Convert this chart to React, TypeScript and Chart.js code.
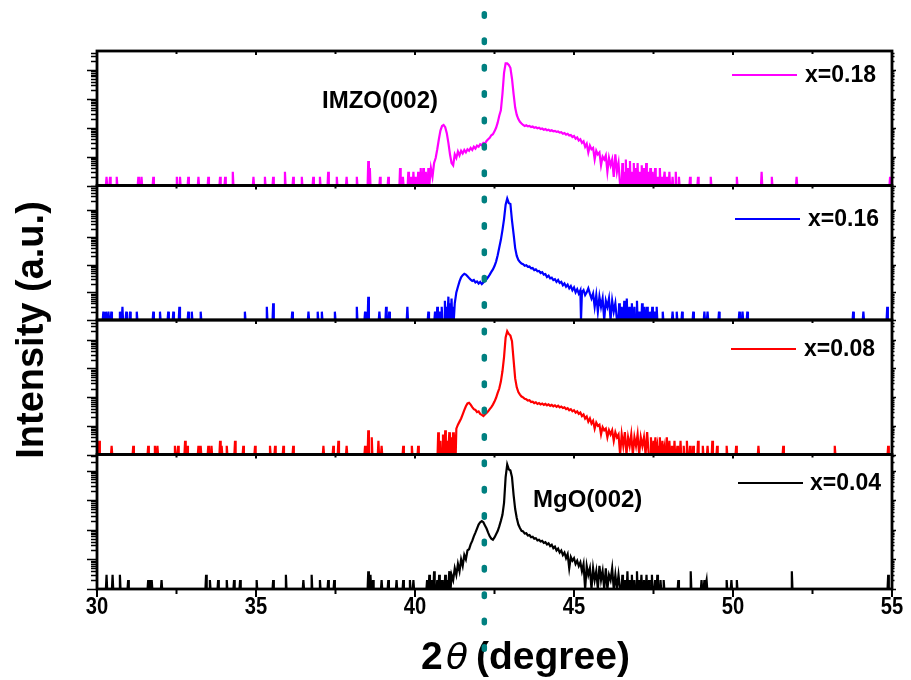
import React, { useEffect, useRef } from "react";
import { Chart, registerables } from "chart.js";

Chart.register(...registerables);

// ---------- axis / labels ----------
const X_MIN = 30;
const X_MAX = 55;
const X_MAJOR_STEP = 5;
const X_MINOR_STEP = 2.5;
const seriesLabels = ["x=0.04", "x=0.08", "x=0.16", "x=0.18"];
const seriesColors = ["#000000", "#FF0000", "#0000FF", "#FF00FF"];
const panelMax = [34700, 49000, 74000, 45700]; // bottom -> top panels
const dottedLineX = 42.18;
const xTitleParts = ["2", "\u03B8", "(degree)"];
const yTitle = "Intensity (a.u.)";
const annotationTexts = ["IMZO(002)", "MgO(002)"];

// ---------- x = 0.18 (magenta) ----------
const spikesBefore018: [number, number][] = [
  [30.3, 2], [30.41, 2], [30.62, 2], [31.3, 2], [31.4, 2], [31.77, 2], [32.51, 2], [32.61, 2],
  [32.87, 2], [33.19, 2], [33.5, 2], [33.87, 2], [34.03, 2], [34.27, 3], [34.92, 2], [35.28, 2],
  [35.54, 2], [35.91, 3], [36.17, 2], [36.44, 2], [36.8, 2], [37.01, 2], [37.27, 3], [37.54, 2],
  [37.85, 2], [38.17, 2], [38.53, 7], [38.58, 4], [38.9, 2], [39.16, 2], [39.53, 4], [39.62, 2],
  [39.79, 3], [39.88, 2], [39.95, 3], [40.02, 2], [40.1, 3], [40.18, 4], [40.26, 4], [40.34, 3], [40.42, 4],
];
const peak018: [number, number][] = [
  [40.45, 1], [40.5, 4], [40.55, 2], [40.6, 6], [40.65, 9], [40.7, 18], [40.75, 40], [40.8, 80],
  [40.85, 115], [40.9, 125], [40.95, 105], [41.0, 65], [41.05, 30], [41.1, 12], [41.15, 6], [41.2, 5],
  [41.25, 12], [41.3, 9], [41.35, 15], [41.4, 11], [41.45, 16], [41.5, 13], [41.55, 17], [41.6, 14],
  [41.65, 18], [41.7, 16], [41.75, 20], [41.8, 17], [41.85, 22], [41.9, 19], [41.95, 24], [42.0, 22],
  [42.05, 27], [42.1, 25], [42.15, 30], [42.2, 28], [42.25, 35], [42.3, 40], [42.35, 45], [42.4, 55],
  [42.45, 60], [42.5, 75], [42.55, 100], [42.6, 150], [42.65, 260], [42.7, 400], [42.75, 1500],
  [42.8, 8000], [42.85, 17000], [42.9, 17000], [42.95, 15000], [43.0, 12000], [43.05, 5000],
  [43.1, 1500], [43.15, 500], [43.2, 280], [43.25, 200], [43.3, 160], [43.35, 140], [43.4, 125],
  [43.45, 115], [43.5, 122], [43.55, 112], [43.6, 116], [43.65, 106], [43.7, 110], [43.75, 100],
  [43.8, 104], [43.85, 96], [43.9, 100], [43.95, 90], [44.0, 94], [44.05, 86], [44.1, 90], [44.15, 82],
  [44.2, 86], [44.25, 78], [44.3, 82], [44.35, 76], [44.4, 78], [44.45, 72], [44.5, 74], [44.55, 68],
  [44.6, 70], [44.65, 62], [44.7, 66], [44.75, 58], [44.8, 62], [44.85, 54], [44.9, 56], [44.95, 48],
  [45.0, 52], [45.05, 42], [45.1, 46], [45.15, 36], [45.2, 40], [45.25, 30], [45.3, 34], [45.35, 22],
  [45.4, 28], [45.45, 14], [45.5, 24], [45.55, 18], [45.6, 20], [45.65, 8], [45.7, 16], [45.75, 12],
  [45.8, 14], [45.85, 5], [45.9, 10], [45.95, 8], [46.0, 11], [46.05, 3], [46.1, 9], [46.15, 5],
  [46.2, 8], [46.25, 2], [46.3, 12], [46.35, 3], [46.4, 6], [46.45, 1],
];
const spikesAfter018: [number, number][] = [
  [46.52, 6], [46.58, 3], [46.63, 8], [46.7, 4], [46.76, 7], [46.82, 3], [46.88, 6], [46.95, 4],
  [47.0, 6], [47.07, 3], [47.13, 5], [47.2, 4], [47.27, 6], [47.33, 3], [47.4, 4], [47.47, 3],
  [47.55, 4], [47.62, 2], [47.7, 4], [47.78, 2], [47.85, 3], [47.93, 2], [48.0, 3], [48.1, 2],
  [48.2, 3], [48.3, 2], [48.65, 2], [48.9, 2], [49.3, 2], [50.12, 2], [50.9, 3], [51.22, 2],
  [52.0, 2], [54.94, 2],
];

// ---------- x = 0.16 (blue) ----------
const spikesBefore016: [number, number][] = [
  [30.2, 2], [30.28, 2], [30.36, 2], [30.45, 2], [30.72, 2], [30.8, 3], [30.92, 2], [31.04, 2],
  [31.25, 2], [31.77, 2], [31.98, 2], [32.24, 2], [32.4, 2], [32.59, 3], [32.87, 2], [32.98, 2],
  [33.26, 2], [34.65, 2], [35.34, 3], [35.54, 4], [36.14, 2], [36.65, 2], [36.94, 2], [37.07, 2],
  [37.48, 2], [38.17, 3], [38.43, 2], [38.53, 7], [38.88, 2], [39.09, 3], [39.19, 2], [39.76, 3],
  [40.42, 2], [40.63, 2], [40.7, 3], [40.77, 2], [40.84, 3], [40.94, 5], [41.0, 3], [41.05, 7],
  [41.1, 4], [41.15, 6], [41.2, 3],
];
const peak016: [number, number][] = [
  [41.25, 4], [41.3, 10], [41.35, 16], [41.4, 25], [41.45, 35], [41.5, 42], [41.55, 47], [41.6, 44],
  [41.65, 38], [41.7, 33], [41.75, 29], [41.8, 26], [41.85, 28], [41.9, 23], [41.95, 25], [42.0, 21],
  [42.05, 24], [42.1, 20], [42.15, 23], [42.2, 26], [42.25, 30], [42.3, 36], [42.35, 44], [42.4, 55],
  [42.45, 68], [42.5, 90], [42.55, 130], [42.6, 220], [42.65, 420], [42.7, 800], [42.75, 1800],
  [42.8, 4500], [42.85, 15000], [42.9, 25000], [42.95, 17000], [43.0, 16000], [43.05, 4000],
  [43.1, 1300], [43.15, 400], [43.2, 210], [43.25, 150], [43.3, 125], [43.35, 110], [43.4, 104],
  [43.45, 92], [43.5, 96], [43.55, 84], [43.6, 86], [43.65, 74], [43.7, 76], [43.75, 64], [43.8, 68],
  [43.85, 58], [43.9, 60], [43.95, 50], [44.0, 54], [44.05, 44], [44.1, 46], [44.15, 36], [44.2, 40],
  [44.25, 32], [44.3, 34], [44.35, 28], [44.4, 30], [44.45, 24], [44.5, 28], [44.55, 22], [44.6, 24],
  [44.65, 18], [44.7, 21], [44.75, 16], [44.8, 19], [44.85, 14], [44.9, 17], [44.95, 12], [45.0, 15],
  [45.05, 10], [45.1, 13], [45.15, 9], [45.2, 12], [45.22, 1], [45.25, 10], [45.3, 12], [45.35, 8],
  [45.4, 10], [45.45, 14], [45.5, 9], [45.55, 6], [45.6, 9], [45.65, 3], [45.7, 8], [45.75, 2],
  [45.8, 7], [45.85, 3], [45.9, 6], [45.95, 1], [46.0, 5], [46.05, 3], [46.1, 6], [46.15, 1],
  [46.2, 5], [46.25, 2], [46.3, 4], [46.35, 1],
];
const spikesAfter016: [number, number][] = [
  [46.42, 4], [46.5, 3], [46.58, 5], [46.66, 6], [46.74, 3], [46.82, 4], [46.9, 3], [46.98, 5],
  [47.06, 2], [47.14, 4], [47.22, 3], [47.3, 3], [47.38, 2], [47.46, 3], [47.55, 2], [47.6, 3],
  [47.79, 2], [48.1, 2], [48.23, 2], [48.4, 2], [48.75, 2], [49.1, 2], [49.2, 2], [49.56, 2],
  [50.2, 2], [50.3, 2], [50.45, 2], [53.78, 2], [54.1, 2], [54.85, 3],
];

// ---------- x = 0.08 (red) ----------
const spikesBefore008: [number, number][] = [
  [30.07, 3], [30.46, 2], [31.14, 2], [31.61, 2], [31.82, 2], [31.9, 2], [32.45, 2], [32.55, 2],
  [32.77, 3], [32.84, 2], [33.19, 2], [33.26, 2], [33.5, 2], [33.6, 2], [33.87, 3], [33.92, 2],
  [34.08, 2], [34.34, 3], [34.6, 2], [34.97, 2], [35.44, 2], [35.6, 2], [35.86, 2], [36.17, 2],
  [37.12, 2], [37.43, 2], [37.59, 3], [37.85, 2], [38.43, 2], [38.53, 7], [38.64, 4], [38.85, 3],
  [38.95, 2], [39.63, 2], [39.9, 2], [40.1, 2], [40.73, 6], [40.8, 3], [40.88, 5], [40.95, 7],
  [41.02, 3], [41.08, 6], [41.14, 4], [41.2, 6], [41.26, 5],
];
const peak008: [number, number][] = [
  [41.3, 8], [41.35, 11], [41.4, 14], [41.45, 18], [41.5, 25], [41.55, 35], [41.6, 48], [41.65, 60],
  [41.7, 63], [41.75, 55], [41.8, 45], [41.85, 38], [41.9, 36], [41.95, 30], [42.0, 32], [42.05, 26],
  [42.1, 24], [42.15, 22], [42.2, 25], [42.25, 28], [42.3, 32], [42.35, 38], [42.4, 45], [42.45, 55],
  [42.5, 70], [42.55, 95], [42.6, 140], [42.65, 200], [42.7, 350], [42.75, 800], [42.8, 2500],
  [42.85, 12000], [42.9, 20000], [42.95, 16000], [43.0, 14000], [43.05, 9000], [43.1, 2000],
  [43.15, 450], [43.2, 220], [43.25, 150], [43.3, 123], [43.35, 105], [43.4, 98], [43.45, 88],
  [43.5, 84], [43.55, 76], [43.6, 78], [43.65, 68], [43.7, 70], [43.75, 62], [43.8, 66], [43.85, 58],
  [43.9, 62], [43.95, 56], [44.0, 60], [44.05, 54], [44.1, 58], [44.15, 52], [44.2, 56], [44.25, 50],
  [44.3, 54], [44.35, 48], [44.4, 52], [44.45, 46], [44.5, 50], [44.55, 44], [44.6, 47], [44.65, 42],
  [44.7, 44], [44.75, 38], [44.8, 41], [44.85, 35], [44.9, 38], [44.95, 32], [45.0, 35], [45.05, 29],
  [45.1, 32], [45.15, 26], [45.2, 29], [45.25, 22], [45.3, 25], [45.35, 18], [45.4, 21], [45.45, 14],
  [45.5, 18], [45.55, 12], [45.6, 15], [45.65, 8], [45.7, 13], [45.75, 10], [45.8, 11], [45.85, 5],
  [45.9, 9], [45.95, 7], [46.0, 8], [46.05, 4], [46.1, 7], [46.15, 5], [46.2, 7], [46.25, 3],
  [46.3, 6], [46.35, 4], [46.4, 5], [46.45, 1], [46.5, 5], [46.55, 2], [46.6, 6], [46.65, 1],
  [46.7, 4], [46.75, 2], [46.8, 5], [46.85, 1], [46.9, 4], [46.95, 2], [47.0, 5], [47.05, 1],
  [47.1, 4], [47.15, 2], [47.2, 4], [47.25, 1], [47.3, 6], [47.35, 1],
];
const spikesAfter008: [number, number][] = [
  [47.42, 4], [47.5, 3], [47.56, 4], [47.62, 2], [47.7, 4], [47.78, 3], [47.85, 2], [47.92, 4],
  [48.0, 3], [48.08, 2], [48.16, 3], [48.25, 2], [48.35, 3], [48.45, 2], [48.55, 3], [48.65, 2],
  [48.75, 2], [48.9, 3], [49.05, 2], [49.2, 2], [49.35, 3], [49.5, 2], [49.8, 2], [50.1, 2],
  [50.8, 2], [51.58, 2], [53.2, 2], [54.88, 2],
];

// ---------- x = 0.04 (black) ----------
const spikesBefore004: [number, number][] = [
  [30.3, 3], [30.49, 3], [30.72, 3], [30.98, 2], [31.61, 2], [31.66, 2], [31.72, 2], [32.03, 2],
  [33.43, 3], [33.55, 2], [33.81, 2], [34.08, 2], [34.31, 2], [34.5, 2], [35.02, 2], [35.54, 2],
  [35.94, 3], [36.49, 2], [36.75, 3], [37.01, 2], [37.27, 2], [37.46, 2], [38.53, 4], [38.6, 3],
  [38.68, 2], [38.95, 2], [39.16, 2], [39.42, 2], [39.63, 2], [39.84, 2], [39.95, 2], [40.38, 2],
  [40.45, 3], [40.52, 2], [40.6, 4], [40.7, 2], [40.76, 3], [40.85, 2], [40.95, 3], [41.02, 2], [41.08, 4],
];
const peak004: [number, number][] = [
  [41.12, 1], [41.15, 3], [41.2, 2], [41.25, 5], [41.3, 3], [41.35, 7], [41.4, 4], [41.45, 10],
  [41.5, 6], [41.55, 14], [41.6, 10], [41.65, 20], [41.7, 22], [41.75, 32], [41.8, 42], [41.85, 60],
  [41.9, 80], [41.95, 110], [42.0, 150], [42.05, 180], [42.1, 195], [42.15, 180], [42.2, 140],
  [42.25, 110], [42.3, 80], [42.35, 60], [42.4, 50], [42.45, 46], [42.5, 55], [42.55, 70], [42.6, 90],
  [42.65, 130], [42.7, 200], [42.75, 320], [42.8, 800], [42.85, 6000], [42.9, 16000], [42.95, 11000],
  [43.0, 10000], [43.05, 6000], [43.1, 1500], [43.15, 500], [43.2, 250], [43.25, 150], [43.3, 114],
  [43.35, 92], [43.4, 88], [43.45, 74], [43.5, 76], [43.55, 64], [43.6, 66], [43.65, 56], [43.7, 58],
  [43.75, 50], [43.8, 52], [43.85, 44], [43.9, 46], [43.95, 40], [44.0, 42], [44.05, 36], [44.1, 38],
  [44.15, 32], [44.2, 35], [44.25, 28], [44.3, 31], [44.35, 24], [44.4, 27], [44.45, 20], [44.5, 23],
  [44.55, 17], [44.6, 20], [44.65, 14], [44.7, 17], [44.75, 11], [44.8, 15], [44.85, 5], [44.9, 12],
  [44.95, 9], [45.0, 11], [45.05, 7], [45.1, 9], [45.15, 6], [45.2, 8], [45.25, 4], [45.3, 7],
  [45.35, 1], [45.4, 6], [45.45, 3], [45.5, 5], [45.55, 1], [45.6, 5], [45.65, 2], [45.7, 4],
  [45.75, 1], [45.8, 6], [45.85, 2], [45.9, 4], [45.95, 1], [46.0, 5], [46.05, 1], [46.1, 3],
  [46.15, 2], [46.2, 5], [46.25, 1], [46.3, 3], [46.35, 1], [46.4, 3], [46.45, 1],
];
const spikesAfter004: [number, number][] = [
  [46.52, 3], [46.6, 2], [46.68, 4], [46.75, 2], [46.82, 3], [46.9, 2], [46.98, 4], [47.05, 2],
  [47.12, 3], [47.2, 2], [47.28, 3], [47.36, 2], [47.45, 3], [47.55, 2], [47.62, 3], [47.72, 2],
  [47.82, 2], [48.28, 2], [48.67, 4], [49.01, 2], [49.1, 2], [49.17, 2], [49.8, 2], [49.95, 2],
  [50.12, 2], [51.85, 4], [54.88, 3],
];

// ---------- styling / layout (not data) ----------
const FONT = '"Liberation Sans", Arial, Helvetica, sans-serif';
const BASE = 1; // log axis floor (counts)
const SPIKE_HALF = 0.02;
const axisIds = ["yK", "yR", "yB", "yM"]; // bottom -> top
const legendLayout = [
  { lineX: 738, textX: 810, yOff: 28.5 },
  { lineX: 731, textX: 804, yOff: 29 },
  { lineX: 735, textX: 808, yOff: 33.5 },
  { lineX: 732, textX: 805, yOff: 24 },
];
const LEGEND_LINE_LEN = 65;

type Pt = { x: number; y: number };

function buildSeries(
  before: [number, number][],
  peak: [number, number][],
  after: [number, number][]
): Pt[] {
  const pts: Pt[] = [{ x: X_MIN, y: BASE }];
  const addSpikes = (list: [number, number][]) => {
    list.forEach(([x, h]) => {
      pts.push({ x: x - SPIKE_HALF, y: BASE });
      pts.push({ x, y: h });
      pts.push({ x: x + SPIKE_HALF, y: BASE });
    });
  };
  addSpikes(before);
  peak.forEach(([x, y]) => pts.push({ x, y }));
  addSpikes(after);
  pts.push({ x: X_MAX, y: BASE });
  pts.sort((a, b) => a.x - b.x);
  return pts;
}

const seriesPoints: Pt[][] = [
  buildSeries(spikesBefore004, peak004, spikesAfter004),
  buildSeries(spikesBefore008, peak008, spikesAfter008),
  buildSeries(spikesBefore016, peak016, spikesAfter016),
  buildSeries(spikesBefore018, peak018, spikesAfter018),
];

function line(ctx: CanvasRenderingContext2D, x0: number, y0: number, x1: number, y1: number) {
  ctx.beginPath();
  ctx.moveTo(x0, y0);
  ctx.lineTo(x1, y1);
  ctx.stroke();
}

const overlayPlugin = {
  id: "xrdOverlay",
  afterDatasetsDraw(chart: any) {
    const ctx: CanvasRenderingContext2D = chart.ctx;
    const area = chart.chartArea;
    const xs = chart.scales.x;
    ctx.save();
    ctx.strokeStyle = "#000";
    ctx.lineCap = "butt";

    // panel frames
    ctx.lineWidth = 2.8;
    axisIds.forEach((id) => {
      const s = chart.scales[id];
      ctx.strokeRect(area.left, s.top, area.right - area.left, s.bottom - s.top);
    });

    // log ticks (left outward, right small)
    ctx.lineWidth = 1.5;
    axisIds.forEach((id) => {
      const s = chart.scales[id];
      for (let e = 0; e < 7; e++) {
        for (let m = 1; m <= 9; m++) {
          const v = m * Math.pow(10, e);
          if (v > s.max) continue;
          const py = Math.round(s.getPixelForValue(v)) + 0.5;
          const major = m === 1;
          line(ctx, area.left - (major ? 10 : 6), py, area.left, py);
          line(ctx, area.right, py, area.right + (major ? 4 : 2.5), py);
        }
      }
    });

    // x ticks + labels
    ctx.lineWidth = 2;
    for (let v = X_MIN; v <= X_MAX + 1e-6; v += X_MINOR_STEP) {
      const px = xs.getPixelForValue(v);
      const major = Math.abs(v / X_MAJOR_STEP - Math.round(v / X_MAJOR_STEP)) < 1e-6;
      line(ctx, px, area.bottom, px, area.bottom + (major ? 8 : 5));
      axisIds.forEach((id) => {
        const s = chart.scales[id];
        line(ctx, px, s.top, px, s.top + (major ? 4 : 3));
      });
    }
    ctx.fillStyle = "#000";
    ctx.font = `bold 24px ${FONT}`;
    ctx.textAlign = "center";
    ctx.textBaseline = "middle";
    xs.ticks.forEach((t: any) => {
      const px = xs.getPixelForValue(t.value);
      ctx.save();
      ctx.translate(px, 607);
      ctx.scale(0.84, 1);
      ctx.fillText(String(t.value), 0, 0);
      ctx.restore();
    });

    // legends per panel
    axisIds.forEach((id, i) => {
      const s = chart.scales[id];
      const L = legendLayout[i];
      const y = s.top + L.yOff;
      ctx.strokeStyle = seriesColors[i];
      ctx.lineWidth = 2;
      line(ctx, L.lineX, y, L.lineX + LEGEND_LINE_LEN, y);
      ctx.fillStyle = "#000";
      ctx.font = `bold 23px ${FONT}`;
      ctx.textAlign = "left";
      ctx.textBaseline = "middle";
      ctx.fillText(seriesLabels[i], L.textX, y + 1);
    });

    // annotations
    ctx.fillStyle = "#000";
    ctx.font = `bold 24px ${FONT}`;
    ctx.textBaseline = "middle";
    ctx.textAlign = "left";
    ctx.fillText(annotationTexts[0], 322, 101);
    ctx.fillText(annotationTexts[1], 533, 500);

    // y title
    ctx.save();
    ctx.translate(43, 330);
    ctx.rotate(-Math.PI / 2);
    ctx.textAlign = "center";
    ctx.textBaseline = "alphabetic";
    ctx.font = `bold 38px ${FONT}`;
    ctx.fillText(yTitle, 0, 0);
    ctx.restore();

    // x title
    ctx.textBaseline = "alphabetic";
    ctx.textAlign = "left";
    ctx.font = `bold 39px ${FONT}`;
    ctx.fillText(xTitleParts[0], 421, 669);
    ctx.font = `italic 36px "DejaVu Sans", "Liberation Sans", sans-serif`;
    ctx.fillText(xTitleParts[1], 446, 669);
    ctx.font = `bold 39px ${FONT}`;
    ctx.fillText(xTitleParts[2], 476, 669);

    // dotted reference line
    const dx = xs.getPixelForValue(dottedLineX);
    ctx.strokeStyle = "#008080";
    ctx.lineWidth = 5.5;
    ctx.lineCap = "round";
    ctx.setLineDash([2.5, 23.87]);
    line(ctx, dx, 13.75, dx, 652);
    ctx.setLineDash([]);

    ctx.restore();
  },
};

function yAxis(max: number) {
  return {
    type: "logarithmic" as const,
    position: "left" as const,
    stack: "panels",
    stackWeight: 1,
    min: BASE,
    max,
    grid: { display: false },
    border: { display: false },
    ticks: { display: false },
    afterFit: (s: any) => {
      s.width = 97;
    },
  };
}

export default function App() {
  const canvasRef = useRef<HTMLCanvasElement | null>(null);

  useEffect(() => {
    document.body.style.margin = "0";
    const canvas = canvasRef.current;
    if (!canvas) return;
    const chart = new Chart(canvas, {
      type: "line",
      data: {
        datasets: seriesPoints.map((pts, i) => ({
          label: seriesLabels[i],
          data: pts,
          borderColor: seriesColors[i],
          backgroundColor: seriesColors[i],
          borderWidth: 2.2,
          pointRadius: 0,
          tension: 0,
          fill: false,
          xAxisID: "x",
          yAxisID: axisIds[i],
        })),
      },
      options: {
        responsive: false,
        animation: false,
        devicePixelRatio: 1,
        events: [],
        layout: { padding: { top: 51, right: 19, left: 0, bottom: 0 } },
        plugins: {
          legend: { display: false },
          tooltip: { enabled: false },
          title: { display: false },
        },
        scales: {
          x: {
            type: "linear",
            position: "bottom",
            min: X_MIN,
            max: X_MAX,
            grid: { display: false },
            border: { display: false },
            ticks: {
              stepSize: X_MAJOR_STEP,
              autoSkip: false,
              maxRotation: 0,
              display: false,
            },
            afterFit: (s: any) => {
              s.height = 91;
            },
          },
          yK: yAxis(panelMax[0]),
          yR: yAxis(panelMax[1]),
          yB: yAxis(panelMax[2]),
          yM: yAxis(panelMax[3]),
        } as any,
      },
      plugins: [overlayPlugin],
    });
    return () => chart.destroy();
  }, []);

  return (
    <div style={{ width: 911, height: 680, background: "#fff" }}>
      <canvas ref={canvasRef} width={911} height={680} style={{ display: "block" }} />
    </div>
  );
}
